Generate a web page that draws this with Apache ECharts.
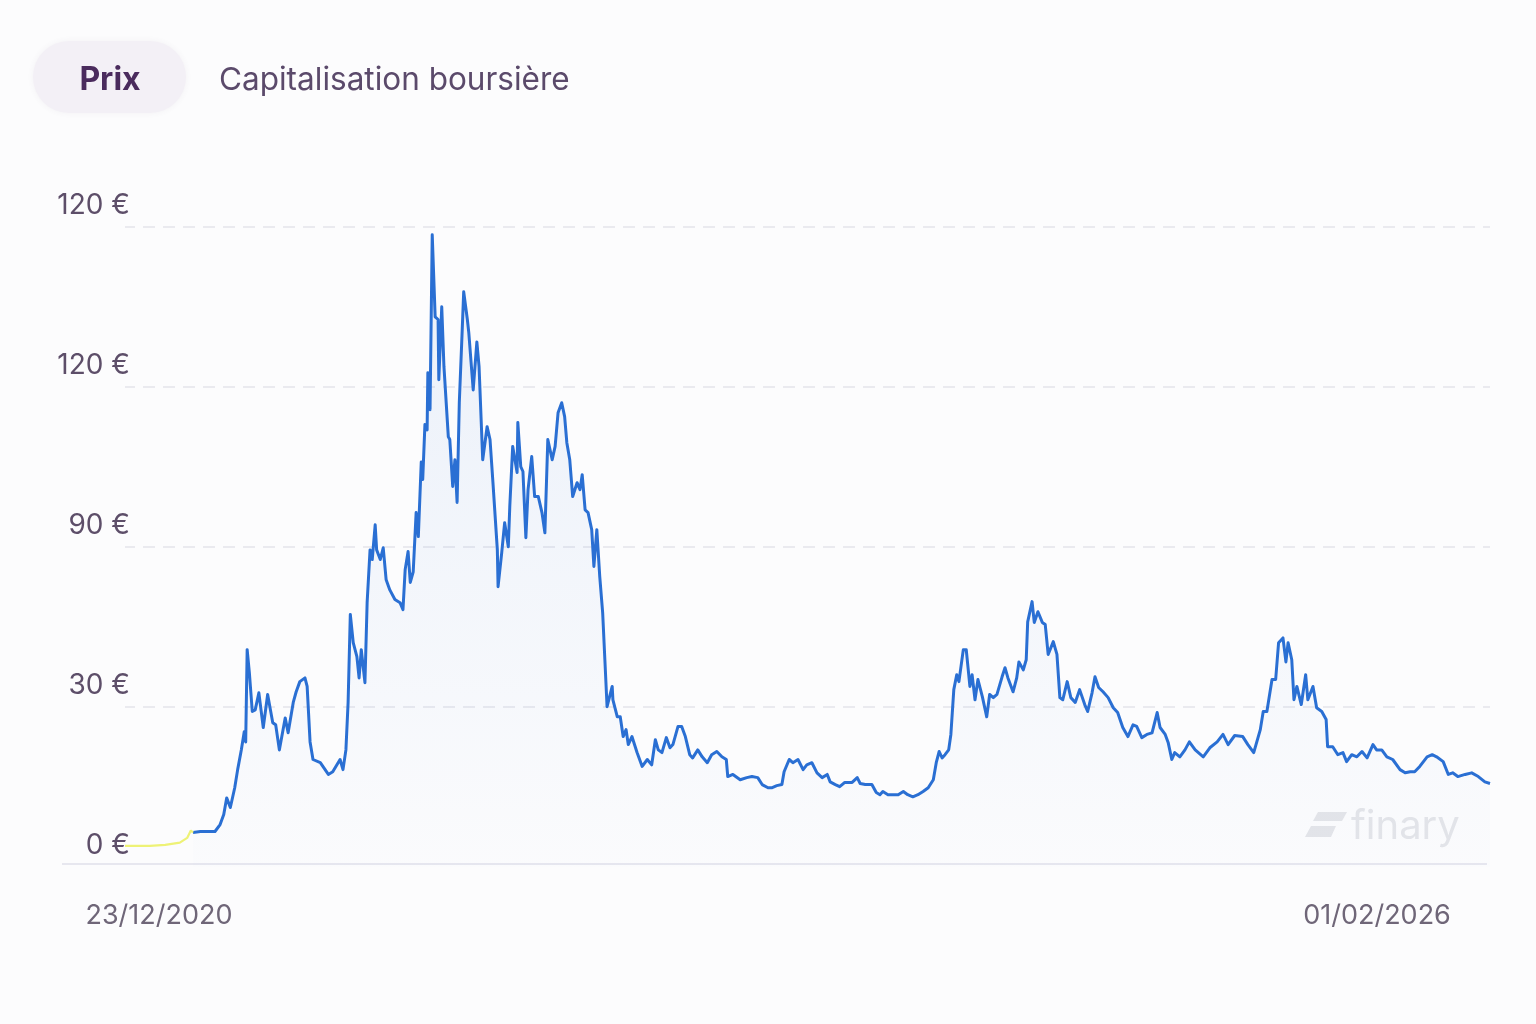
<!DOCTYPE html>
<html><head><meta charset="utf-8">
<script src="https://cdn.jsdelivr.net/npm/echarts@6/dist/echarts.min.js"></script>
<style>html,body{margin:0;padding:0;background:#fcfcfd;}#c{width:1536px;height:1024px;}</style>
</head><body><div id="c"></div>
<script>
// Day offset since 23/12/2020
const days = [0,21,34,55,75,85,90,93,103,123,130,135,139,144,150,154,159,163,165,167,170,174,178,183,189,195,202,206,211,219,223,230,234,239,246,249,253,257,267,278,284,294,298,302,305,308,312,317,320,323,328,331,335,338,342,344,349,353,357,362,369,376,380,383,387,390,394,398,401,405,407,410,413,414,417,420,424,428,429,433,436,442,444,448,451,454,457,461,463,468,470,476,481,484,489,495,499,503,509,510,515,519,524,526,530,536,537,541,544,548,551,556,560,565,570,574,578,584,588,592,597,601,604,608,612,618,622,625,629,633,638,641,645,649,653,656,659,666,667,673,677,681,685,688,693,700,707,714,720,725,729,734,740,745,749,756,761,766,772,776,783,789,796,802,809,816,822,824,831,841,850,857,865,871,879,884,891,898,901,908,913,920,927,932,939,946,953,960,964,971,977,984,994,1001,1005,1012,1021,1027,1032,1036,1043,1050,1057,1064,1070,1077,1084,1091,1098,1105,1109,1113,1117,1121,1126,1129,1133,1137,1140,1146,1150,1155,1158,1162,1166,1172,1178,1182,1187,1192,1199,1203,1207,1214,1219,1222,1228,1232,1234,1240,1243,1248,1254,1258,1262,1269,1274,1278,1282,1288,1293,1299,1305,1312,1316,1322,1326,1331,1337,1344,1351,1357,1364,1371,1378,1383,1390,1397,1404,1411,1415,1422,1426,1431,1435,1442,1449,1455,1463,1474,1483,1493,1501,1508,1517,1528,1535,1543,1552,1556,1561,1568,1573,1577,1583,1587,1590,1595,1598,1602,1608,1614,1617,1624,1629,1636,1642,1644,1651,1658,1665,1670,1677,1684,1691,1698,1706,1711,1718,1725,1733,1743,1750,1757,1763,1770,1780,1787,1793,1802,1809,1815,1822,1832,1841,1850,1859,1866];
// Price in EUR
const prices = [3.9,3.9,3.9,4.1,4.5,5.4,6.8,6.4,6.6,6.6,7.9,9.8,12.9,11.1,14.8,18.2,21.9,25.3,23.4,40.7,36.4,29.1,29.4,32.6,26.1,32.3,27.0,26.6,21.9,27.9,25.1,30.8,32.8,34.7,35.4,33.8,23.4,20.1,19.5,17.3,17.8,20.1,18.2,21.9,30.8,47.3,42.0,39.4,35.4,40.7,34.5,49.5,59.4,57.6,64.1,59.4,57.6,59.8,53.8,51.9,50.1,49.5,48.2,55.7,59.1,53.3,55.3,66.4,61.9,75.9,72.6,82.9,81.9,92.6,85.7,118.5,103.1,102.6,91.3,105.0,93.8,80.6,80.1,71.3,76.3,68.3,87.0,100.7,107.8,102.6,100.1,89.4,98.4,93.8,76.3,82.5,80.1,72.0,59.4,52.5,58.9,64.5,60.0,67.5,78.8,73.9,83.3,75.0,74.1,61.7,70.7,76.9,69.4,69.4,66.4,62.6,80.1,76.3,78.8,85.1,87.0,84.4,79.5,76.3,69.4,72.0,70.7,73.5,66.9,66.4,63.2,56.3,63.2,54.4,47.6,38.8,30.0,33.8,31.3,28.1,28.1,24.4,25.7,22.9,24.4,21.4,18.8,20.1,19.1,23.8,21.9,21.4,24.2,22.3,22.9,26.3,26.3,24.4,21.0,20.4,21.9,20.6,19.5,21.0,21.6,20.6,20.1,16.9,17.3,16.3,16.7,16.9,16.7,15.4,14.8,14.8,15.2,15.4,17.8,20.1,19.5,20.1,18.2,19.1,19.5,17.6,16.7,17.3,15.9,15.4,15.0,15.8,15.8,16.7,15.6,15.4,15.4,13.9,13.5,14.1,13.5,13.5,13.5,14.1,13.5,13.1,13.5,14.1,14.8,16.3,19.5,21.6,20.4,21.0,21.9,24.8,33.2,36.0,34.7,40.7,40.7,33.8,36.0,31.3,35.1,31.9,28.1,32.3,31.7,32.3,35.6,37.3,35.4,32.8,35.4,38.4,36.9,38.8,45.9,49.7,45.8,47.8,45.8,45.4,39.8,42.2,39.8,31.7,31.3,34.7,31.7,30.8,33.2,30.4,29.1,32.6,35.6,33.6,32.8,31.7,29.8,28.9,26.1,24.4,26.6,26.3,24.2,24.8,25.1,28.9,26.1,24.8,23.3,20.1,21.4,20.6,21.9,23.4,21.9,20.6,22.3,23.4,24.8,22.9,24.6,24.4,22.9,21.4,25.7,29.1,29.1,35.1,35.1,42.0,42.9,38.4,42.0,38.8,31.3,33.8,30.4,36.0,31.3,33.8,29.8,29.1,27.6,22.5,22.5,21.0,21.4,19.7,21.0,20.6,21.6,20.4,22.9,21.9,21.9,20.6,20.1,18.2,17.6,17.8,17.8,18.8,20.6,21.0,20.6,19.7,17.3,17.6,16.9,17.3,17.6,16.9,15.9,15.6];
const highlightCount = 8; // first points drawn in yellow
const yTickLabels = ['0 €','30 €','90 €','120 €','120 €'];
const xLabels = ['23/12/2020','01/02/2026'];
const tabs = ['Prix','Capitalisation boursière'];
const brand = 'finary';

const pts = days.map((d,i)=>[d,prices[i]]);
const yellowPts = pts.slice(0, highlightCount);
const bluePts = pts.slice(highlightCount - 1);

const chart = echarts.init(document.getElementById('c'), null, {renderer:'canvas'});
const FONT = 'Inter, "Noto Sans", sans-serif';
chart.setOption({
  backgroundColor:'#fcfcfd',
  animation:false,
  grid:{left:125,right:46,top:226.7,bottom:157.3,outerBoundsMode:'none',containLabel:false},
  xAxis:{type:'value',min:0,max:days[days.length-1],
    axisLine:{show:false},axisTick:{show:false},axisLabel:{show:false},splitLine:{show:false}},
  yAxis:{type:'value',min:0,max:120,interval:30,
    axisLine:{show:false},axisTick:{show:false},
    axisLabel:{show:true,margin:-5,align:'right',verticalAlign:'bottom',padding:[0,0,7,0],
      fontFamily:FONT,fontSize:28,color:'#5d4e69',
      formatter:(v)=>yTickLabels[Math.round(v/30)]},
    splitLine:{show:true,showMinLine:false,lineStyle:{color:'#e4e4ea',width:1.5,type:[12,8],dashOffset:2}}},
  graphic:[
    {type:'rect',shape:{x:33,y:41,width:153,height:72,r:36},style:{fill:'#f3f0f6',shadowColor:'rgba(80,60,110,0.06)',shadowBlur:6},z:10},
    {type:'text',x:110,y:80,style:{text:tabs[0],fontFamily:FONT,fontWeight:'bold',fontSize:32,fill:'#4a2b5d',align:'center',verticalAlign:'middle'},z:11},
    {type:'text',x:219,y:81,style:{text:tabs[1],fontFamily:FONT,fontSize:31.5,fill:'#5b4a6b',align:'left',verticalAlign:'middle'},z:11},
    {type:'line',shape:{x1:62,y1:864,x2:1487,y2:864},style:{stroke:'#e7e7ef',lineWidth:2},z:1},
    {type:'text',x:159,y:916,style:{text:xLabels[0],fontFamily:FONT,fontSize:27,fill:'#6f6678',align:'center',verticalAlign:'middle'}},
    {type:'text',x:1377,y:916,style:{text:xLabels[1],fontFamily:FONT,fontSize:27,fill:'#6f6678',align:'center',verticalAlign:'middle'}},
    {type:'polygon',shape:{points:[[1318,812],[1347,812],[1342,821],[1313,821]]},style:{fill:'#e4e5e9'},z:0},
    {type:'polygon',shape:{points:[[1311,826],[1336,826],[1331,837],[1305,837]]},style:{fill:'#e4e5e9'},z:0},
    {type:'text',x:1351,y:827,style:{text:brand,fontFamily:FONT,fontWeight:'normal',fontSize:40,fill:'#e4e5e9',align:'left',verticalAlign:'middle'},z:0}
  ],
  series:[
    {type:'line',data:bluePts,showSymbol:false,symbol:'none',smooth:false,
      lineStyle:{color:'#2a6fd3',width:3,join:'round'},
      areaStyle:{color:new echarts.graphic.LinearGradient(0,0,0,1,[
        {offset:0,color:'rgba(56,120,214,0.13)'},{offset:1,color:'rgba(56,120,214,0.01)'}])},
      z:3},
    {type:'line',data:yellowPts,showSymbol:false,symbol:'none',
      lineStyle:{color:'#eef276',width:2.2},z:4}
  ]
});
</script></body></html>
